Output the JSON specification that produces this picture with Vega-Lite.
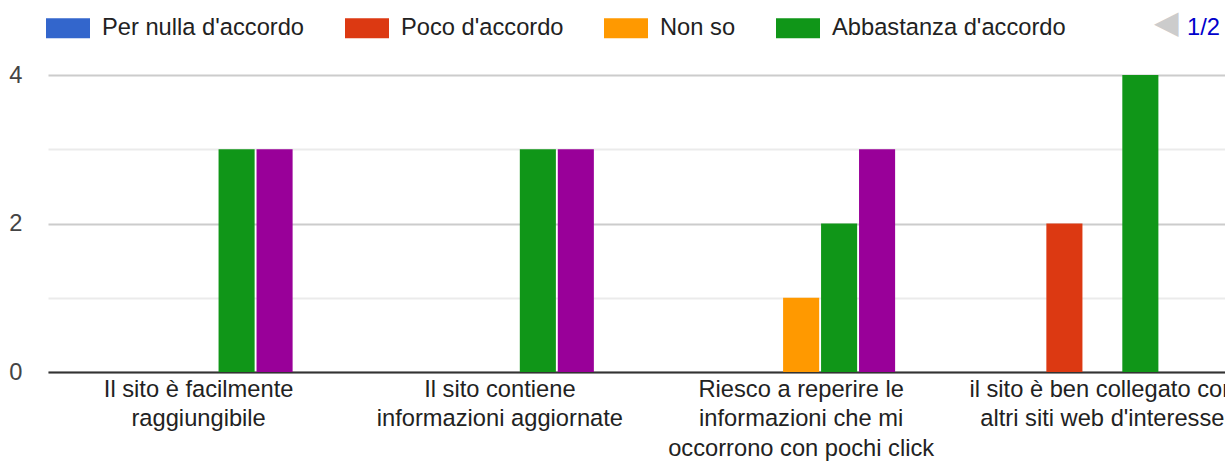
{
  "$schema": "https://vega.github.io/schema/vega-lite/v6.json",
  "autosize": "none",
  "width": 1167,
  "height": 297,
  "padding": {"left": 46, "top": 75, "right": 12, "bottom": 92},
  "background": "white",
  "config": {
    "font": "Liberation Sans",
    "view": {"stroke": null}
  },
  "title": {
    "text": "1/2",
    "anchor": "end",
    "orient": "top",
    "frame": "group",
    "align": "left",
    "dx": -26,
    "color": "#0000cc",
    "fontSize": 23.7,
    "fontWeight": "normal",
    "offset": -34
  },
  "data": {
    "values": [
      {"domanda": "Il sito è facilmente raggiungibile", "risposta": "Per nulla d'accordo", "conteggio": 0},
      {"domanda": "Il sito è facilmente raggiungibile", "risposta": "Poco d'accordo", "conteggio": 0},
      {"domanda": "Il sito è facilmente raggiungibile", "risposta": "Non so", "conteggio": 0},
      {"domanda": "Il sito è facilmente raggiungibile", "risposta": "Abbastanza d'accordo", "conteggio": 3},
      {"domanda": "Il sito è facilmente raggiungibile", "risposta": "Molto d'accordo", "conteggio": 3},
      {"domanda": "Il sito contiene informazioni aggiornate", "risposta": "Per nulla d'accordo", "conteggio": 0},
      {"domanda": "Il sito contiene informazioni aggiornate", "risposta": "Poco d'accordo", "conteggio": 0},
      {"domanda": "Il sito contiene informazioni aggiornate", "risposta": "Non so", "conteggio": 0},
      {"domanda": "Il sito contiene informazioni aggiornate", "risposta": "Abbastanza d'accordo", "conteggio": 3},
      {"domanda": "Il sito contiene informazioni aggiornate", "risposta": "Molto d'accordo", "conteggio": 3},
      {"domanda": "Riesco a reperire le informazioni che mi occorrono con pochi click", "risposta": "Per nulla d'accordo", "conteggio": 0},
      {"domanda": "Riesco a reperire le informazioni che mi occorrono con pochi click", "risposta": "Poco d'accordo", "conteggio": 0},
      {"domanda": "Riesco a reperire le informazioni che mi occorrono con pochi click", "risposta": "Non so", "conteggio": 1},
      {"domanda": "Riesco a reperire le informazioni che mi occorrono con pochi click", "risposta": "Abbastanza d'accordo", "conteggio": 2},
      {"domanda": "Riesco a reperire le informazioni che mi occorrono con pochi click", "risposta": "Molto d'accordo", "conteggio": 3},
      {"domanda": "il sito è ben collegato con altri siti web d'interesse", "risposta": "Per nulla d'accordo", "conteggio": 0},
      {"domanda": "il sito è ben collegato con altri siti web d'interesse", "risposta": "Poco d'accordo", "conteggio": 2},
      {"domanda": "il sito è ben collegato con altri siti web d'interesse", "risposta": "Non so", "conteggio": 0},
      {"domanda": "il sito è ben collegato con altri siti web d'interesse", "risposta": "Abbastanza d'accordo", "conteggio": 4},
      {"domanda": "il sito è ben collegato con altri siti web d'interesse", "risposta": "Molto d'accordo", "conteggio": 0}
    ]
  },
  "mark": {"type": "bar", "clip": true},
  "encoding": {
    "x": {
      "field": "domanda",
      "type": "nominal",
      "sort": null,
      "scale": {"range": [2, 1207], "paddingInner": 0.376, "paddingOuter": 0.188},
      "axis": {
        "title": null,
        "labelAngle": 0,
        "ticks": false,
        "domain": true,
        "domainColor": "#333333",
        "domainWidth": 2,
        "labelFontSize": 23.7,
        "labelColor": "#222222",
        "labelPadding": 5,
        "labelLineHeight": 29.5,
        "labelLimit": 0,
        "labelBaseline": "top",
        "labelOverlap": false,
        "labelExpr": "{'Il sito è facilmente raggiungibile': ['Il sito è facilmente', 'raggiungibile'], 'Il sito contiene informazioni aggiornate': ['Il sito contiene', 'informazioni aggiornate'], 'Riesco a reperire le informazioni che mi occorrono con pochi click': ['Riesco a reperire le', 'informazioni che mi', 'occorrono con pochi click'], 'il sito è ben collegato con altri siti web d\\'interesse': ['il sito è ben collegato con', 'altri siti web d\\'interesse']}[datum.label]"
      }
    },
    "xOffset": {
      "field": "risposta",
      "type": "nominal",
      "scale": {
        "domain": ["Per nulla d'accordo", "Poco d'accordo", "Non so", "Abbastanza d'accordo", "Molto d'accordo"],
        "paddingInner": 0.05,
        "paddingOuter": 0
      }
    },
    "y": {
      "field": "conteggio",
      "type": "quantitative",
      "scale": {"domain": [0, 4], "nice": false},
      "axis": {
        "title": null,
        "values": [0, 1, 2, 3, 4],
        "labelExpr": "datum.value % 2 == 0 ? datum.label : ''",
        "ticks": false,
        "domain": false,
        "labelFontSize": 23.7,
        "labelColor": "#444444",
        "labelPadding": 24,
        "gridColor": {"condition": {"test": "datum.value % 2 == 1", "value": "#ebebeb"}, "value": "#cccccc"},
        "gridWidth": 2
      }
    },
    "color": {
      "field": "risposta",
      "type": "nominal",
      "scale": {
        "domain": ["Per nulla d'accordo", "Poco d'accordo", "Non so", "Abbastanza d'accordo", "Molto d'accordo"],
        "range": ["#3366cc", "#dc3912", "#ff9900", "#109618", "#990099"]
      },
      "legend": {
        "orient": "top",
        "direction": "horizontal",
        "offset": 35,
        "values": ["Per nulla d'accordo", "Poco d'accordo", "Non so", "Abbastanza d'accordo"],
        "title": "◀",
        "titleOrient": "right",
        "titleColor": "#cccccc",
        "titleFontSize": 32,
        "titleFontWeight": "normal",
        "titlePadding": 88,
        "titleBaseline": "middle",
        "symbolType": "M-1,-0.4545H1V0.4545H-1Z",
        "symbolSize": 1936,
        "symbolStrokeWidth": 0,
        "symbolOpacity": 1,
        "labelFontSize": 23.7,
        "labelLimit": 400,
        "labelColor": "#222222",
        "labelOffset": 12,
        "columnPadding": 40,
        "padding": 0
      }
    }
  }
}
